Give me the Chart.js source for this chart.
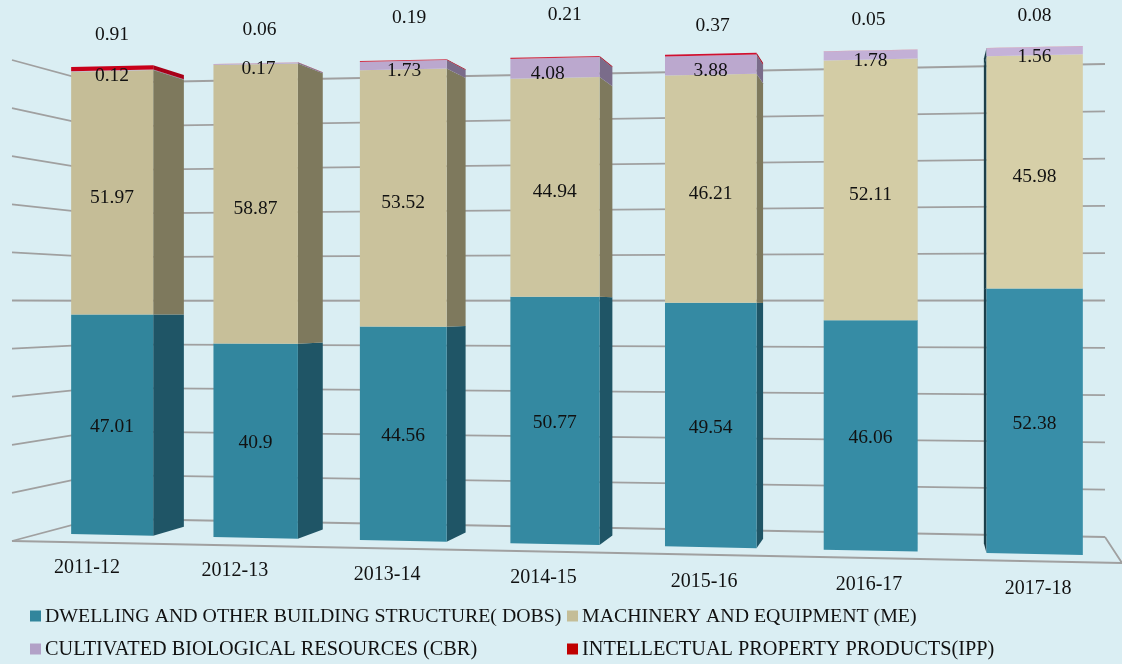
<!DOCTYPE html>
<html>
<head>
<meta charset="utf-8">
<title>Capital formation shares</title>
<script src="https://cdn.jsdelivr.net/npm/chart.js@4"></script>
<style>
  html, body { margin: 0; padding: 0; background: #daeef3; overflow: hidden; }
  canvas { display: block; }
</style>
</head>
<body>
<canvas id="chart" width="1122" height="664"></canvas>
<script>
// Дані
const years = ['2011-12', '2012-13', '2013-14', '2014-15', '2015-16', '2016-17', '2017-18'];
const dobs = [47.01, 40.9, 44.56, 50.77, 49.54, 46.06, 52.38];
const me = [51.97, 58.87, 53.52, 44.94, 46.21, 52.11, 45.98];
const cbr = [0.12, 0.17, 1.73, 4.08, 3.88, 1.78, 1.56];
const ipp = [0.91, 0.06, 0.19, 0.21, 0.37, 0.05, 0.08];
const seriesNames = [
  'DWELLING AND OTHER BUILDING STRUCTURE( DOBS)',
  'MACHINERY AND EQUIPMENT (ME)',
  'CULTIVATED BIOLOGICAL RESOURCES (CBR)',
  'INTELLECTUAL PROPERTY PRODUCTS(IPP)'
];

// Кольори
const frontDobs = ['#31859c', '#32869e', '#33889f', '#3489a1', '#358aa3', '#368ca5', '#388ea8'];
const frontMe = ['#c5bd97', '#c7bf99', '#cac29c', '#ccc59f', '#cfc8a2', '#d3cca5', '#d6cfa8'];
const frontCbr = ['#b9a6cc', '#b9a6cc', '#bba8ce', '#bba8ce', '#bba8ce', '#c3b0d6', '#c5b2d8'];
const frontIpp = ['#c8001a', '#d98a9a', '#d03048', '#d03048', '#d01030', '#dc7088', '#dc7088'];
const sideColors = ['#1f5566', '#7e795d', '#7a6c8a', '#a80018'];
const legendColors = ['#31859c', '#c4bd97', '#b2a1c7', '#c00000'];

// Підписи стоять не по центру, у джерелі їх зсунуто вручну
const ippLift = [31, 33, 42, 42, 28, 30, 31];
const ippShift = [0, 4, 6, 10, 2, -2, 0];
const cbrShift = [0, 3, 1, -7, 0, 0, 0];

const FONT = '"Liberation Serif", "Times New Roman", serif';
const VP = { x: 920, y: 310 };

// Перспектива: індекс категорії -> x, значення -> y
function warpX(t) { return 112 + 141.45 * t + 2.05 * t * t; }
function warpY(x, n) {
  const h = 233.5 + 0.0208 * (x - 71);
  return 300.5 + (1 - 2 * n) * h;
}
function toBack(p) {
  return { x: p.x + (VP.x - p.x) * 0.04, y: p.y + (VP.y - p.y) * 0.04 };
}
function poly(ctx, pts, color) {
  ctx.fillStyle = color;
  ctx.beginPath();
  pts.forEach((p, k) => k ? ctx.lineTo(p.x, p.y) : ctx.moveTo(p.x, p.y));
  ctx.closePath();
  ctx.fill();
}

const walls = {
  id: 'walls',
  beforeDatasetsDraw(chart) {
    const ctx = chart.ctx;
    const yScale = chart.scales.y;
    ctx.save();
    ctx.strokeStyle = '#a0a0a0';
    ctx.lineWidth = 1.8;
    yScale.ticks.forEach(tick => {
      const n = tick.value / 100;
      ctx.beginPath();
      ctx.moveTo(12, 541 - 481 * n);
      ctx.lineTo(97, 518.5 - 435.5 * n);
      ctx.lineTo(1105, 537 - 473 * n);
      ctx.stroke();
    });
    ctx.beginPath();
    ctx.moveTo(12, 541);
    ctx.lineTo(1122, 563);
    ctx.moveTo(1105, 537);
    ctx.lineTo(1122, 563);
    ctx.stroke();
    ctx.restore();
  }
};

const bars3d = {
  id: 'bars3d',
  // стандартне малювання вимкнено, стовпчики малюємо нижче
  beforeDatasetDraw() { return false; },
  afterDatasetsDraw(chart) {
    const ctx = chart.ctx;
    const xs = chart.scales.x;
    const ys = chart.scales.y;
    const step = xs.getPixelForValue(1) - xs.getPixelForValue(0);
    const x0 = xs.getPixelForValue(0);
    const norm = py => (ys.bottom - py) / (ys.bottom - ys.top);
    const labels = [];

    chart.data.datasets.forEach((ds, d) => {
      chart.getDatasetMeta(d).data.forEach((el, i) => {
        const t = (el.x - x0) / step;
        const half = el.width / 2 / step;
        const xl = warpX(t - half);
        const xr = warpX(t + half);
        const n0 = norm(el.base);
        const n1 = norm(el.y);
        const bl = { x: xl, y: warpY(xl, n0) };
        const br = { x: xr, y: warpY(xr, n0) };
        const tl = { x: xl, y: warpY(xl, n1) };
        const tr = { x: xr, y: warpY(xr, n1) };
        // бічна грань
        if (xr < VP.x) poly(ctx, [br, tr, toBack(tr), toBack(br)], sideColors[d]);
        if (xl > VP.x) poly(ctx, [bl, tl, toBack(tl), toBack(bl)], '#1c3f4a');
        poly(ctx, [bl, br, tr, tl], ds.backgroundColor[i]);

        const cx = warpX(t);
        const mid = warpY(cx, (n0 + n1) / 2);
        if (d === 3) {
          labels.push({ text: ds.data[i], x: cx + ippShift[i], y: warpY(cx, 1) - ippLift[i] });
        } else if (d === 2) {
          labels.push({ text: ds.data[i], x: cx + cbrShift[i], y: mid + 5.5 });
        } else {
          labels.push({ text: ds.data[i], x: cx, y: mid + (d === 1 ? 5 : 2.5) });
        }
      });
    });

    ctx.save();
    ctx.fillStyle = '#111';
    ctx.font = '19.5px ' + FONT;
    ctx.textAlign = 'center';
    ctx.textBaseline = 'middle';
    labels.forEach(l => ctx.fillText(String(l.text), l.x, l.y));
    ctx.restore();
  }
};

const axisAndLegend = {
  id: 'axisAndLegend',
  afterDraw(chart) {
    const ctx = chart.ctx;
    ctx.save();
    ctx.fillStyle = '#111';
    ctx.textBaseline = 'middle';
    // підписи осі X
    ctx.font = '20px ' + FONT;
    ctx.textAlign = 'center';
    chart.data.labels.forEach((label, i) => {
      const cx = warpX(i);
      const lx = cx + (cx - VP.x) * 0.031;
      ctx.fillText(label, lx, 568 + 0.0218 * (lx - 87));
    });
    // легенда
    const spots = [[30, 616], [567, 616], [30, 649], [567, 649]];
    ctx.textAlign = 'left';
    seriesNames.forEach((name, k) => {
      const [lx, ly] = spots[k];
      ctx.fillStyle = legendColors[k];
      ctx.fillRect(lx, ly - 5.5, 11, 11);
      ctx.fillStyle = '#111';
      ctx.font = (k < 2 ? '19.85px ' : '20.3px ') + FONT;
      ctx.fillText(name, lx + 15, ly + 1);
    });
    ctx.restore();
  }
};

new Chart(document.getElementById('chart').getContext('2d'), {
  type: 'bar',
  data: {
    labels: years,
    datasets: [
      { label: seriesNames[0], data: dobs, backgroundColor: frontDobs },
      { label: seriesNames[1], data: me, backgroundColor: frontMe },
      { label: seriesNames[2], data: cbr, backgroundColor: frontCbr },
      { label: seriesNames[3], data: ipp, backgroundColor: frontIpp }
    ]
  },
  options: {
    responsive: false,
    animation: false,
    layout: { padding: { left: 12, right: 12, top: 50, bottom: 110 } },
    datasets: { bar: { categoryPercentage: 1, barPercentage: 0.58 } },
    plugins: { legend: { display: false }, tooltip: { enabled: false } },
    scales: {
      x: {
        stacked: true,
        grid: { display: false },
        border: { display: false },
        ticks: { display: false }
      },
      y: {
        stacked: true,
        min: 0,
        max: 100,
        grid: { display: false },
        border: { display: false },
        ticks: { display: false, stepSize: 10 }
      }
    }
  },
  plugins: [walls, bars3d, axisAndLegend]
});
</script>
</body>
</html>
